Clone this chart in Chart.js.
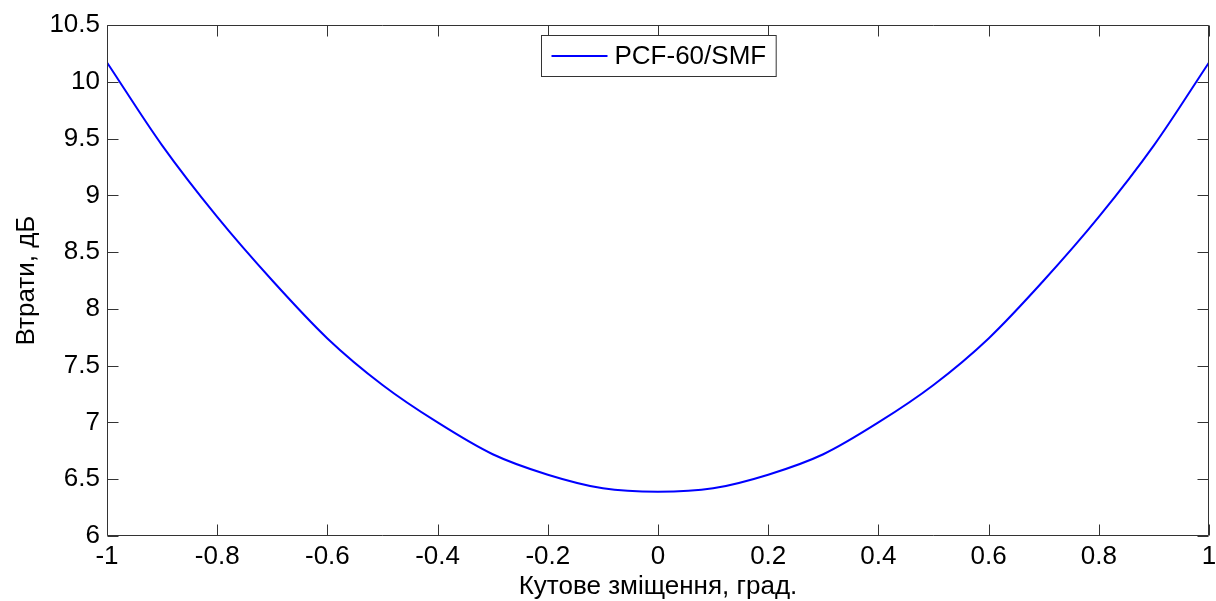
<!DOCTYPE html>
<html>
<head>
<meta charset="utf-8">
<script src="https://cdn.jsdelivr.net/npm/chart.js@4/dist/chart.umd.min.js"></script>
<style>
  html, body { margin: 0; padding: 0; background: #fff; }
  canvas { display: block; }
</style>
</head>
<body>
<canvas id="chart" width="1216" height="601"></canvas>
<script>
const seriesName = "PCF-60/SMF";
const angleValues = [-1, -0.9, -0.8, -0.7, -0.6, -0.5, -0.4, -0.3, -0.2, -0.1, 0,
  0.1, 0.2, 0.3, 0.4, 0.5, 0.6, 0.7, 0.8, 0.9, 1];
const lossValues = [10.17, 9.44, 8.81, 8.25, 7.74, 7.33, 7.0, 6.72, 6.54, 6.42, 6.39,
  6.42, 6.54, 6.72, 7.0, 7.33, 7.74, 8.25, 8.81, 9.44, 10.17];
const xTicks = [-1, -0.8, -0.6, -0.4, -0.2, 0, 0.2, 0.4, 0.6, 0.8, 1];
const yTicks = [6, 6.5, 7, 7.5, 8, 8.5, 9, 9.5, 10, 10.5];
const xTitle = "Кутове зміщення, град.";
const yTitle = "Втрати, дБ";

const FONT = "'Liberation Sans', Arial, sans-serif";
const FONT_SIZE = 26;
const AXIS_COLOR = "#333333";
const TICK_LEN = 11;

// MATLAB-like box with inward ticks on all four sides
const framePlugin = {
  id: "frame",
  afterDatasetsDraw(chart) {
    const { ctx, chartArea: a, scales } = chart;
    const L = Math.round(a.left) + 0.5, R = Math.round(a.right) - 0.5;
    const T = Math.round(a.top) + 0.5, B = Math.round(a.bottom) - 0.5;
    ctx.save();
    ctx.strokeStyle = AXIS_COLOR;
    ctx.lineWidth = 1;
    ctx.beginPath();
    ctx.rect(L, T, R - L, B - T);
    xTicks.forEach((v) => {
      const px = Math.round(scales.x.getPixelForValue(v)) + 0.5;
      ctx.moveTo(px, B); ctx.lineTo(px, B - TICK_LEN);
      ctx.moveTo(px, T); ctx.lineTo(px, T + TICK_LEN);
    });
    yTicks.forEach((v) => {
      const py = Math.round(scales.y.getPixelForValue(v)) + 0.5;
      ctx.moveTo(L, py); ctx.lineTo(L + TICK_LEN, py);
      ctx.moveTo(R, py); ctx.lineTo(R - TICK_LEN, py);
    });
    ctx.stroke();
    ctx.restore();
  },
};

const legendPlugin = {
  id: "boxLegend",
  afterDraw(chart) {
    const { ctx, chartArea: a } = chart;
    const ds = chart.data.datasets[0];
    ctx.save();
    ctx.font = FONT_SIZE + "px " + FONT;
    const tw = ctx.measureText(ds.label).width;
    const w = 10 + 56 + 7 + tw + 10;
    const h = 41;
    const x0 = Math.round((a.left + a.right) / 2 - w / 2) + 0.5;
    const y0 = 35.5;
    ctx.fillStyle = "#fff";
    ctx.fillRect(x0, y0, w, h);
    ctx.strokeStyle = AXIS_COLOR;
    ctx.lineWidth = 1;
    ctx.strokeRect(x0, y0, w, h);
    ctx.strokeStyle = ds.borderColor;
    ctx.lineWidth = 2;
    ctx.beginPath();
    ctx.moveTo(x0 + 10, y0 + h / 2);
    ctx.lineTo(x0 + 66, y0 + h / 2);
    ctx.stroke();
    ctx.fillStyle = "#000";
    ctx.textBaseline = "middle";
    ctx.fillText(ds.label, x0 + 73, y0 + h / 2 + 1);
    ctx.restore();
  },
};

new Chart(document.getElementById("chart"), {
  type: "line",
  data: {
    datasets: [
      {
        label: seriesName,
        data: angleValues.map((x, i) => ({ x, y: lossValues[i] })),
        borderColor: "#0000ff",
        borderWidth: 2,
        pointRadius: 0,
        fill: false,
        cubicInterpolationMode: "monotone",
      },
    ],
  },
  options: {
    responsive: false,
    devicePixelRatio: 1,
    animation: false,
    layout: { padding: { top: 25, right: 7, left: 0, bottom: 0 } },
    plugins: { legend: { display: false }, tooltip: { enabled: false } },
    scales: {
      x: {
        type: "linear",
        min: -1,
        max: 1,
        afterBuildTicks: (s) => { s.ticks = xTicks.map((v) => ({ value: v })); },
        afterFit: (s) => { s.height = 65; s.paddingLeft = 0; s.paddingRight = 0; },
        grid: { display: false, drawTicks: false },
        border: { display: false },
        ticks: {
          color: "#000",
          font: { family: FONT, size: FONT_SIZE },
          padding: 5,
          maxRotation: 0,
          autoSkip: false,
          callback: (v) => String(Number(v.toFixed(1))),
        },
        title: {
          display: true,
          text: xTitle,
          color: "#000",
          font: { family: FONT, size: FONT_SIZE, lineHeight: 1 },
          padding: { top: 0, bottom: 1 },
        },
      },
      y: {
        min: 6,
        max: 10.5,
        afterBuildTicks: (s) => { s.ticks = yTicks.map((v) => ({ value: v })); },
        afterFit: (s) => { s.width = 107; s.paddingTop = 0; s.paddingBottom = 0; },
        grid: { display: false, drawTicks: false },
        border: { display: false },
        ticks: {
          color: "#000",
          font: { family: FONT, size: FONT_SIZE },
          padding: 7,
          autoSkip: false,
          callback: (v) => String(Number(v.toFixed(1))),
        },
        title: {
          display: true,
          text: yTitle,
          color: "#000",
          font: { family: FONT, size: FONT_SIZE, lineHeight: 1 },
          padding: { top: 14, bottom: 0 },
        },
      },
    },
  },
  plugins: [framePlugin, legendPlugin],
});
</script>
</body>
</html>
